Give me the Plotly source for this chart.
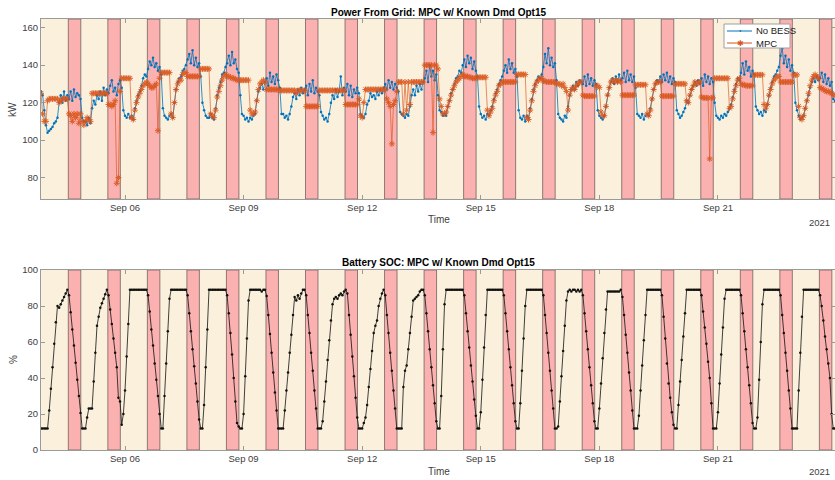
import plotly.graph_objects as go
import pandas as pd

# ---------------- data (hourly, starting 2021-09-03 21:00) ----------------
START = "2021-09-03 21:00"

no_bess = [
    126, 124, 116,
    108, 104, 105, 106, 107, 109, 110, 112, 120, 124, 120, 126, 121, 124, 122, 126, 121, 127, 123, 125, 124, 122, 112, 110,
    110, 108, 112, 109, 117, 121, 119, 124, 122, 126, 121, 128, 124, 127, 125, 129, 132, 126, 128, 124, 130, 132, 128, 116,
    113, 112, 114, 112, 113, 111, 117, 121, 124, 126, 129, 133, 135, 134, 138, 142, 140, 144, 139, 141, 137, 139, 135, 117,
    113, 112, 111, 113, 114, 112, 120, 127, 131, 133, 134, 137, 138, 140, 143, 146, 141, 148, 140, 144, 139, 141, 134, 120,
    116, 113, 112, 112, 114, 112, 111, 117, 124, 128, 131, 135, 136, 139, 141, 145, 140, 147, 141, 143, 138, 136, 124, 114,
    113, 111, 112, 110, 112, 111, 113, 114, 121, 126, 128, 130, 127, 131, 133, 129, 136, 131, 134, 130, 135, 132, 128, 114,
    114, 112, 113, 111, 114, 118, 123, 125, 122, 127, 124, 128, 125, 127, 129, 124, 130, 126, 132, 125, 128, 126, 124, 115,
    113, 111, 112, 110, 114, 120, 124, 122, 127, 123, 126, 134, 124, 128, 126, 130, 124, 129, 123, 127, 125, 128, 125, 114,
    113, 112, 114, 119, 121, 125, 123, 124, 122, 126, 124, 127, 125, 128, 130, 127, 132, 128, 131, 127, 130, 128, 126, 115,
    114, 113, 112, 114, 113, 118, 124, 127, 124, 129, 126, 130, 127, 131, 133, 137, 131, 140, 134, 137, 132, 135, 124, 116,
    115, 113, 114, 113, 118, 121, 125, 127, 130, 133, 134, 137, 136, 140, 143, 139, 145, 141, 144, 138, 142, 137, 134, 118,
    114, 112, 113, 111, 114, 113, 116, 118, 122, 125, 127, 130, 132, 134, 137, 140, 136, 143, 138, 141, 136, 138, 134, 116,
    112, 111, 113, 110, 113, 112, 117, 122, 127, 130, 132, 134, 133, 135, 139, 146, 141, 149, 140, 144, 139, 141, 132, 114,
    112, 111, 110, 113, 112, 118, 124, 127, 129, 127, 131, 129, 132, 131, 130, 134, 129, 135, 130, 133, 129, 132, 130, 116,
    113, 112, 111, 113, 118, 124, 128, 131, 133, 130, 134, 131, 135, 132, 133, 136, 131, 137, 132, 135, 131, 134, 128, 114,
    113, 112, 114, 111, 113, 114, 113, 117, 122, 127, 130, 132, 131, 134, 131, 135, 132, 136, 131, 134, 130, 133, 131, 116,
    114, 112, 113, 115, 117, 121, 120, 124, 127, 129, 131, 129, 132, 130, 133, 129, 135, 131, 134, 130, 133, 131, 120, 113,
    112, 111, 113, 112, 114, 113, 115, 117, 119, 123, 127, 130, 133, 132, 136, 141, 135, 142, 137, 139, 134, 137, 135, 118,
    116, 114, 115, 113, 116, 115, 119, 124, 128, 131, 134, 135, 137, 139, 145, 149, 141, 145, 139, 143, 137, 140, 136, 120,
    116, 113, 111, 112, 113, 117, 121, 124, 128, 131, 133, 131, 134, 132, 133, 136, 131, 135, 130, 133, 129, 131, 122, 121,
]

mpc = [
    125, 114, 110,
    110, 121, 122, 122, 122, 122, 122, 122, 120, 121, 122, 122, 122, 122, 114, 113, 110, 114, 112, 114, 109, 114, 110, 108,
    110, 112, 111, 110, 125, 125, 125, 125, 125, 125, 125, 125, 125, 125, 119, 119, 118, 119, 121, 77, 80, 126, 133, 133,
    133, 133, 133, 133, 112, 111, 116, 120, 123, 125, 127, 129, 130, 131, 130, 129, 128, 128, 129, 130, 105, 133, 136, 136,
    136, 136, 136, 136, 114, 112, 120, 127, 130, 132, 132, 135, 136, 136, 134, 134, 134, 134, 134, 134, 134, 134, 138, 138,
    138, 138, 138, 138, 114, 113, 112, 116, 123, 126, 129, 132, 134, 135, 134, 134, 133.5, 133, 133, 132.5, 132, 132, 132, 132,
    132, 132, 132, 132, 116, 114, 114, 115, 121, 127, 130, 131, 132, 131, 127, 127, 127, 127, 127, 127, 127, 127, 126.5, 126.5,
    126.5, 126.5, 126.5, 126.5, 126.5, 126.5, 126.5, 126.5, 125, 126.5, 126.5, 126.5, 126.5, 126.5, 118, 118, 118, 118, 118, 118, 118, 118, 126.5, 126.5,
    126.5, 126.5, 126.5, 126.5, 126.5, 126.5, 126.5, 126.5, 126.5, 126.5, 126.5, 126.5, 126.5, 126.5, 119, 119, 119, 119, 119, 119, 119, 119, 122, 113,
    112, 120, 127, 127, 127, 127, 127, 127, 127, 127, 127, 127, 127, 127, 127, 122, 120, 118, 98, 119, 121, 126, 131, 131,
    131, 114, 131, 116, 131, 119, 131, 131, 131, 131, 131, 131, 131, 131, 140, 140, 140, 140, 140, 104, 140, 140, 138, 122,
    118, 114, 114, 115, 118, 121, 124, 127, 129, 131, 132, 133, 134, 135, 134, 134, 134, 133.5, 133.5, 133, 133, 133, 133.5, 133.5,
    133.5, 133.5, 133.5, 133.5, 116, 113, 115, 117, 121, 124, 126, 129, 130, 131, 131, 131, 131, 131, 131, 131, 131, 131, 135, 135,
    135, 135, 135, 135, 112, 111, 116, 121, 126, 129, 131, 132, 133, 133, 131.5, 131.5, 131, 131, 131, 131, 131, 131, 130, 130,
    130, 129, 130, 128, 126, 116, 124, 127, 128, 127, 129, 130, 131, 131, 124, 123.5, 123.5, 123.5, 123.5, 123.5, 123.5, 123.5, 129, 129,
    128, 115, 113, 113, 118, 124, 128, 131, 132, 131, 132, 131, 132, 131, 124, 124, 124, 124, 124, 124, 124, 124, 129.5, 129.5,
    129.5, 129.5, 129.5, 129.5, 129.5, 114, 113, 116, 122, 127, 130, 131, 131, 131, 123.5, 123.5, 123.5, 123.5, 123.5, 123.5, 123.5, 123.5, 130, 130,
    130, 130, 130, 130, 130, 121, 120, 124, 127, 129, 131, 130, 131, 131, 123, 122.5, 122.5, 122.5, 122.5, 90, 122.5, 122.5, 133, 133,
    133, 133, 133, 133, 133, 133, 133, 117, 118, 122, 126, 129, 132, 133, 130, 129.5, 129.5, 129, 129, 129, 129, 129, 134.8, 134.8,
    134.8, 134.8, 134.8, 134.8, 119, 117, 119, 124, 127, 130, 132, 133, 134, 134, 131, 131, 131, 131, 131, 131, 131, 131, 134.8, 134.8,
    134.8, 118, 112, 111, 113, 117, 121, 125, 129, 132, 134, 135, 134, 133, 128, 127.5, 127, 126.5, 126, 126, 125.5, 125, 124, 124,
]

soc = [
    12, 12, 12,
    12, 12, 22, 34, 46, 59, 71, 80, 79, 81, 83, 85, 87, 89, 86, 76.5, 67, 58, 48.5, 39, 30, 20.5, 12, 12,
    12, 18, 23, 23, 23, 38, 54, 69, 74, 79, 81.5, 84, 86.5, 89, 86, 78, 70, 62, 54, 46, 29, 27, 14, 20,
    33, 52, 70, 89, 89, 89, 89, 89, 89, 89, 89, 89, 89, 89, 86, 77, 67, 58, 48, 39, 30, 20, 12, 12,
    30, 48, 66, 84, 89, 89, 89, 89, 89, 89, 89, 89, 89, 89, 86, 76, 66, 56, 46.5, 37, 27, 17, 12, 12,
    25, 46, 67, 89, 89, 89, 89, 89, 89, 89, 89, 89, 89, 89, 86, 76, 65, 53, 40, 27, 15, 13, 12, 12,
    20, 41, 62, 83, 89, 89, 89, 89, 89, 89, 89, 88, 89, 89, 85.5, 75, 64.5, 54, 43, 32, 22, 12, 12, 12,
    12, 22, 33, 43, 54, 64, 75, 85, 83, 86, 84, 87, 89, 89, 86, 75, 65, 54, 44, 33, 23, 12, 12, 12,
    16, 27, 38, 50, 61, 72, 81, 84, 85, 84, 86, 87, 86, 88, 89, 87, 75, 64, 52, 41, 29, 18, 12, 12,
    12, 15, 18, 25, 35, 45, 55, 65, 69, 72, 80, 84, 87, 89, 86, 75, 65, 54, 44, 33, 23, 12, 12, 12,
    12, 35, 44, 47, 56, 65, 74, 83, 84, 85, 86, 88, 89, 89, 86, 76, 66, 56, 46, 36, 26, 16, 12, 12,
    30, 56, 81, 89, 89, 89, 89, 89, 89, 89, 89, 89, 89, 89, 86, 76, 66, 57, 47, 38, 28, 19, 12, 12,
    21, 39, 57, 75, 89, 89, 89, 89, 89, 89, 89, 89, 89, 89, 86, 76, 66, 56, 46, 36, 26, 16, 12, 12,
    26, 44, 62, 80, 89, 89, 89, 89, 89, 89, 89, 89, 89, 89, 86, 75, 65, 54, 44, 33, 23, 12, 12, 13,
    27, 41, 55, 69, 83, 88, 89, 88, 89, 89, 88, 89, 88, 89, 86, 76, 66, 56, 46, 36, 26, 16, 12, 12,
    23, 37, 51, 65, 78, 88, 88, 88, 88, 88, 88, 88, 88, 89, 85, 75, 64, 54, 43, 33, 22, 12, 12, 12,
    19, 33, 47, 61, 75, 89, 89, 89, 89, 89, 89, 89, 89, 89, 86, 74, 62, 48, 37, 29, 21, 14, 12, 12,
    25, 38, 50, 63, 76, 89, 89, 89, 89, 89, 89, 89, 89, 89, 86, 77, 68, 59, 49, 40, 26, 12, 12, 12,
    21, 37, 53, 68, 84, 89, 89, 89, 89, 89, 89, 89, 89, 89, 86, 76, 66, 56, 46, 36, 26, 15, 12, 12,
    18, 39, 60, 81, 89, 89, 89, 89, 89, 89, 89, 89, 89, 89, 86, 75, 65, 54, 44, 33, 23, 12, 12, 12,
    12, 33, 54, 74, 89, 89, 89, 89, 89, 89, 89, 89, 89, 89, 86, 80, 72, 63, 56, 48, 40, 20, 12, 12,
]

peak_days = ["2021-09-%02d" % d for d in range(4, 24)]
PEAK_START = "13:35"
PEAK_END = "21:10"

tick_vals = ["2021-09-06", "2021-09-09", "2021-09-12", "2021-09-15", "2021-09-18", "2021-09-21"]
tick_text = ["Sep 06", "Sep 09", "Sep 12", "Sep 15", "Sep 18", "Sep 21"]

x_range = ["2021-09-03 21:00", "2021-09-23 23:04"]
y_power_range = [68.6, 164.6]
y_soc_range = [0, 100]

# ---------------- figure ----------------
W, H = 835, 480
BLUE = "#0072BD"
ORANGE = "#D95319"
TAN = "#FAF0DC"
RED = "#FBB1AF"
EDGE = "rgba(110,90,90,0.75)"
AX = "#9a9a9a"
TXT = "#404040"
FONT = "Liberation Sans, Arial, Helvetica, sans-serif"


def PX(x):
    return x / W


def PY(y):
    return 1 - y / H


times = pd.date_range(START, periods=len(soc), freq="h")

fig = go.Figure()
fig.add_trace(go.Scatter(
    x=times, y=no_bess, name="No BESS", mode="lines+markers",
    line=dict(color=BLUE, width=0.8),
    marker=dict(color=BLUE, size=2.5, symbol="circle"),
    xaxis="x", yaxis="y"))
fig.add_trace(go.Scatter(
    x=times, y=mpc, name="MPC", mode="lines+markers",
    line=dict(color=ORANGE, width=0.7),
    marker=dict(color=ORANGE, size=5, symbol="asterisk-open",
                line=dict(color=ORANGE, width=1)),
    opacity=0.9,
    xaxis="x", yaxis="y"))
fig.add_trace(go.Scatter(
    x=times, y=soc, name="SOC", mode="lines+markers",
    line=dict(color="#111111", width=0.8),
    marker=dict(color="#111111", size=2.5),
    xaxis="x2", yaxis="y2"))

shapes = []
for d in peak_days:
    for xr, yr in (("x", "y domain"), ("x2", "y2 domain")):
        shapes.append(dict(type="rect", xref=xr, yref=yr,
                           x0=f"{d} {PEAK_START}", x1=f"{d} {PEAK_END}", y0=0, y1=1,
                           fillcolor=RED, line=dict(color=EDGE, width=1), layer="below"))

# compact legend (box + line samples), drawn above the data
shapes.append(dict(type="rect", xref="paper", yref="paper",
                   x0=PX(724), x1=PX(790), y0=PY(48), y1=PY(24),
                   fillcolor="white", line=dict(color="#a0a0a0", width=1), layer="above"))
shapes.append(dict(type="line", xref="paper", yref="paper",
                   x0=PX(727), x1=PX(752), y0=PY(31), y1=PY(31),
                   line=dict(color=BLUE, width=1), layer="above"))
shapes.append(dict(type="line", xref="paper", yref="paper",
                   x0=PX(727), x1=PX(752), y0=PY(43), y1=PY(43),
                   line=dict(color=ORANGE, width=1), layer="above"))

xd = [PX(41), 1.0]
axis_common = dict(showline=True, linecolor=AX, linewidth=1, mirror="ticks",
                   ticks="inside", ticklen=4, tickcolor=AX, showgrid=False,
                   zeroline=False, automargin=False,
                   tickfont=dict(family=FONT, size=9.5, color=TXT))

fig.update_layout(
    width=W, height=H, template="none",
    margin=dict(l=0, r=0, t=0, b=0),
    paper_bgcolor="white", plot_bgcolor=TAN,
    font=dict(family=FONT, color=TXT),
    shapes=shapes,
    showlegend=False,
    hovermode=False,
    xaxis=dict(domain=xd, anchor="y", range=x_range, type="date",
               tickvals=tick_vals, ticktext=tick_text, **axis_common),
    yaxis=dict(domain=[PY(199), PY(19)], anchor="x", range=y_power_range,
               tickvals=[80, 100, 120, 140, 160], **axis_common),
    xaxis2=dict(domain=xd, anchor="y2", range=x_range, type="date",
                tickvals=tick_vals, ticktext=tick_text, **axis_common),
    yaxis2=dict(domain=[PY(450), PY(270)], anchor="x2", range=y_soc_range,
                tickvals=[0, 20, 40, 60, 80, 100], **axis_common),
)

ann = []


def add_text(x, y, text, size=10, angle=0, xanchor="center", color=TXT, bold=False):
    ann.append(dict(x=PX(x), y=PY(y), xref="paper", yref="paper",
                    text=f"<b>{text}</b>" if bold else text, showarrow=False,
                    xanchor=xanchor, yanchor="middle", textangle=angle,
                    font=dict(family=FONT, size=size, color=color)))


add_text(438, 12, "Power From Grid: MPC w/ Known Dmd Opt15", size=10, bold=True, color="#000000")
add_text(438, 262, "Battery SOC: MPC w/ Known Dmd Opt15", size=10, bold=True, color="#000000")
add_text(439, 220, "Time", size=10)
add_text(439, 471, "Time", size=10)
add_text(13, 110, "kW", size=10, angle=-90)
add_text(13, 360, "%", size=10, angle=-90)
add_text(832, 222, "2021", size=9.5, xanchor="right")
add_text(832, 471, "2021", size=9.5, xanchor="right")
# legend entries
add_text(754, 31, "No BESS", size=9.5, xanchor="left", color="#202020")
add_text(754, 43, "MPC", size=9.5, xanchor="left", color="#202020")
add_text(740, 31, "\u25CF", size=4, color=BLUE)
add_text(740, 43, "\u2731", size=8, color=ORANGE)
fig.update_layout(annotations=ann)

# remove the browser's default 8px body margin so the figure fills the window
fig.write_html("out.html", config={"displayModeBar": False, "staticPlot": True},
               post_script="document.body.style.margin='0px';")
